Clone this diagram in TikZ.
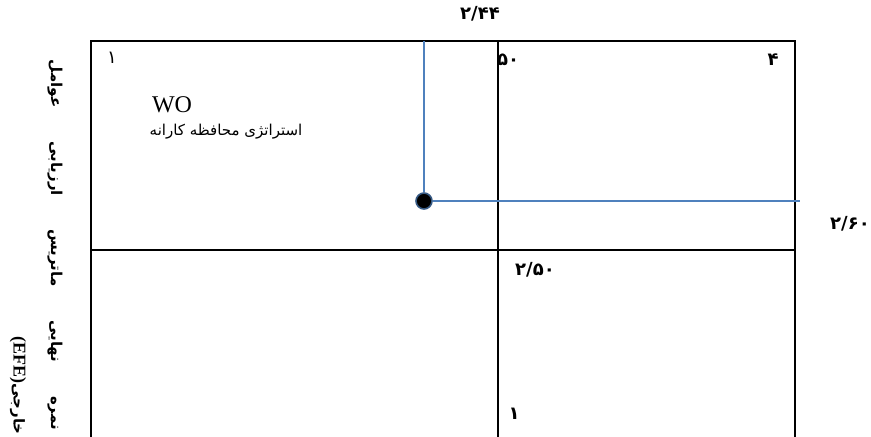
\documentclass[tikz,border=0pt]{standalone}
\usepackage{fontspec}
\setmainfont{Liberation Serif}
\newfontfamily\arabicfont[Script=Arabic]{DejaVu Sans}
\TeXXeTstate=1
\usetikzlibrary{positioning}
\definecolor{markblue}{RGB}{79,129,189}

\begin{document}
\begin{tikzpicture}[x=0.5pt, y=-0.5pt,
    gridline/.style={line width=1.1pt, black},
    markline/.style={line width=0.6pt, markblue},
    numlabel/.style={inner sep=0pt, font=\arabicfont\bfseries\fontsize{9}{10}\selectfont},
    celllabel/.style={inner sep=0pt, font=\arabicfont\fontsize{9}{10}\selectfont},
    axislabel/.style={inner sep=0pt, rotate=-90, font=\arabicfont\bfseries\fontsize{7.5}{9}\selectfont},
    dot/.style={circle, fill=black, draw=markblue!70!black, line width=0.8pt, inner sep=0pt, minimum size=8pt}]

    \useasboundingbox (0,0) rectangle (871,437);

    % grid
    \draw[gridline] (91,437) -- (91,41) -- (795,41) -- (795,437);
    \draw[gridline] (498,41) -- (498,437);
    \draw[gridline] (91,250) -- (795,250);

    % point
    \node[dot] (pt) at (424,201) {};
    \coordinate (ptTop) at (424,41);
    \coordinate (ptRight) at (800,201);
    \draw[markline] (ptTop) -- (pt);
    \draw[markline] (pt) -- (ptRight);

    % values
    \node[numlabel] (valTop) at (480,14) {۲/۴۴};
    \node[numlabel] (valRight) at (850,224) {۲/۶۰};
    \node[numlabel] (valMid) at (535,270) {۲/۵۰};
    \node[numlabel] (valHalf) at (508,60) {۵۰};
    \node[celllabel] (cornerA) at (112,58) {۱};
    \node[numlabel] (cornerB) at (773,60) {۴};
    \node[numlabel] (cornerC) at (514,414) {۱};

    % quadrant
    \node[inner sep=0pt, font=\fontsize{12}{14}\selectfont] (wo) at (172,105) {WO};
    \node[inner sep=0pt, font=\arabicfont\fontsize{7.5}{9}\selectfont] (woText) at (226,132) {\beginR استراتژی محافظه کارانه\endR};

    % axis title
    \node[axislabel] (titleA) at (55,245) {\hbox to 185pt{\beginR نمره\hfill نهایی\hfill ماتریس\hfill ارزیابی\hfill عوامل\endR}};
    \node[axislabel, anchor=east] (titleB) at (18,435) {{\rmfamily\bfseries\fontsize{9}{10}\selectfont (EFE)}\beginR خارجی\endR};
\end{tikzpicture}
\end{document}
